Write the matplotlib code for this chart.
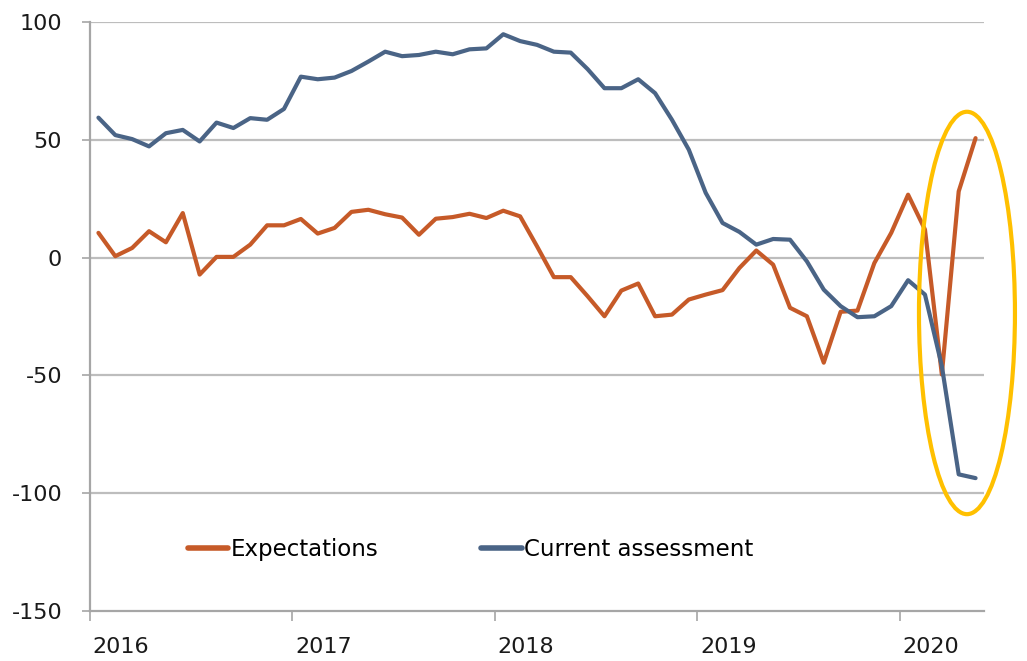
import matplotlib
matplotlib.use("Agg")
import matplotlib.pyplot as plt
from matplotlib.patches import Ellipse

# Monthly data Jan 2016 .. May 2020
expectations = [10.5, 0.6, 4.1, 11.2, 6.5, 18.9, -7.2, 0.3, 0.3, 5.5, 13.7, 13.7,
                16.4, 10.2, 12.6, 19.4, 20.3, 18.4, 17.0, 9.7, 16.5, 17.2, 18.6, 16.8,
                19.9, 17.5, 4.8, -8.3, -8.3, -16.4, -24.9, -14.0, -11.0, -24.9, -24.2, -17.8,
                -15.7, -13.8, -4.4, 3.0, -3.0, -21.3, -24.9, -44.6, -23.0, -22.5, -2.3, 10.5,
                26.7, 11.9, -49.6, 28.1, 50.7]
current = [59.4, 52.0, 50.3, 47.2, 52.8, 54.2, 49.3, 57.3, 55.0, 59.2, 58.5, 63.1,
           76.8, 75.7, 76.4, 79.2, 83.2, 87.4, 85.5, 86.0, 87.4, 86.3, 88.4, 88.8,
           94.8, 91.9, 90.3, 87.4, 87.0, 80.0, 71.9, 71.9, 75.7, 69.8, 58.5, 45.8,
           27.5, 14.7, 10.9, 5.5, 7.9, 7.6, -1.6, -13.6, -20.6, -25.3, -24.9, -20.6,
           -9.6, -15.7, -46.0, -92.0, -93.6]
year_labels = ["2016", "2017", "2018", "2019", "2020"]
y_ticks = [-150, -100, -50, 0, 50, 100]

orange = "#C65A28"
blue = "#4A6486"
grey = "#A6A6A6"

fig = plt.figure(figsize=(10.27, 6.61), dpi=100)
ax = fig.add_axes([90/1027, 50/661, 894/1027, 589/661])

x = list(range(len(expectations)))
ax.plot(x, expectations, color=orange, lw=3.0, solid_joinstyle="round",
        solid_capstyle="round", label="Expectations", zorder=3)
ax.plot(x, current, color=blue, lw=3.0, solid_joinstyle="round",
        solid_capstyle="round", label="Current assessment", zorder=3)

ax.set_xlim(-0.5, len(x) - 0.5)
ax.set_ylim(-150, 100)

for yv in y_ticks[1:]:
    ax.axhline(yv, color="#BDBDBD", lw=1.6, zorder=1)

ax.set_yticks(y_ticks)
ax.set_yticklabels([str(v) for v in y_ticks], fontsize=16, color="#1a1a1a")
ax.tick_params(axis="y", direction="out", length=6, width=1.2, color=grey, pad=14)

major = [-0.5 + 12 * i for i in range(len(year_labels))]
ax.set_xticks(major)
ax.set_xticklabels([""] * len(major))
ax.set_xticks([m + 1.84 for m in major], minor=True)
ax.set_xticklabels(year_labels, minor=True, fontsize=16, color="#1a1a1a")
ax.tick_params(axis="x", which="major", direction="out", length=7, width=1.2, color=grey)
ax.tick_params(axis="x", which="minor", length=0, pad=18.5)

for s in ["top", "right"]:
    ax.spines[s].set_visible(False)
for s in ["left", "bottom"]:
    ax.spines[s].set_color(grey)
    ax.spines[s].set_linewidth(1.6)

ell = Ellipse((51.49, -23.5), width=5.69, height=170.8, fill=False,
              edgecolor="#FFC000", lw=3.0, clip_on=False, zorder=4)
ax.add_patch(ell)

leg = ax.legend(loc="center left", bbox_to_anchor=(0.097, 0.105), ncol=2,
                frameon=False, borderpad=0, handlelength=1.75, handletextpad=0.1,
                columnspacing=4.5,
                prop={"family": ["DejaVu Sans"], "size": 16.5})
for h in leg.legend_handles:
    h.set_linewidth(4)

fig.savefig("out.png", dpi=100)
